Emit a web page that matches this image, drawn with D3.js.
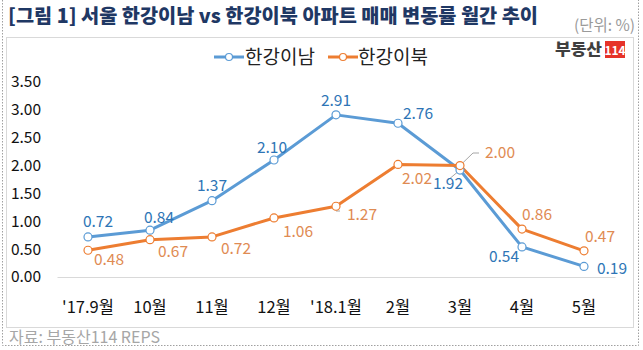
<!DOCTYPE html>
<html>
<head>
<meta charset="utf-8">
<script src="https://cdn.jsdelivr.net/npm/d3@7"></script>
<style>
  html, body { margin: 0; padding: 0; background: #fff; }
  svg { display: block; font-family: "Noto Sans CJK KR", "Noto Sans", sans-serif; }
</style>
</head>
<body>
<div id="chart"></div>
<script>
// 서울 한강이남 vs 한강이북 아파트 매매 변동률 (%)
const months = ["'17.9월", "10월", "11월", "12월", "'18.1월", "2월", "3월", "4월", "5월"];
const south = [0.72, 0.84, 1.37, 2.10, 2.91, 2.76, 1.92, 0.54, 0.19];
const north = [0.48, 0.67, 0.72, 1.06, 1.27, 2.02, 2.00, 0.86, 0.47];
const yTicks = [0, 0.5, 1, 1.5, 2, 2.5, 3, 3.5];

// label placement per point (offset of label centre from marker)
const southLabelOffset = [[10, -15], [9, -13], [0, -15], [-2, -12], [0, -14], [20, -10], [-12, 14], [-18, 10], [28, 2]];
const northLabelOffset = [[21, 9], [23, 12], [24, 12], [24, 14], [26, 8], [19, 14], [40, -13], [15, -15], [16, -14]];

const width = 643, height = 350;
const margin = { top: 82, bottom: 277, left: 57, right: 615 };

const svg = d3.select("#chart").append("svg")
    .attr("width", width)
    .attr("height", height);

// outer dashed frame + inner box
svg.append("path")
    .attr("d", `M2.5,0 V345.5 H638.5 V0`)
    .attr("fill", "none")
    .attr("stroke", "#a0a0a0")
    .attr("stroke-dasharray", "1.5,1.5");
svg.append("rect")
    .attr("x", 6.5).attr("y", 37.5)
    .attr("width", 627).attr("height", 290)
    .attr("fill", "none")
    .attr("stroke", "#d9d9d9");

// title
svg.append("text")
    .attr("x", 8).attr("y", 23)
    .attr("font-size", "19.5px")
    .attr("font-weight", "900")
    .attr("fill", "#1f3864")
    .attr("textLength", 530)
    .attr("lengthAdjust", "spacingAndGlyphs")
    .text("[그림 1] 서울 한강이남 vs 한강이북 아파트 매매 변동률 월간 추이");

svg.append("text")
    .attr("x", 635).attr("y", 31)
    .attr("text-anchor", "end")
    .attr("font-size", "15.5px")
    .attr("fill", "#9a9a9a")
    .text("(단위: %)");

svg.append("text")
    .attr("x", 9).attr("y", 343)
    .attr("font-size", "16px")
    .attr("fill", "#a6a6a6")
    .text("자료: 부동산114 REPS");

// logo
svg.append("text")
    .attr("x", 555).attr("y", 55)
    .attr("font-size", "16px")
    .attr("font-weight", "900")
    .attr("fill", "#3f3f3f")
    .attr("textLength", 47)
    .attr("lengthAdjust", "spacingAndGlyphs")
    .text("부동산");
svg.append("rect")
    .attr("x", 605).attr("y", 41)
    .attr("width", 20).attr("height", 17)
    .attr("fill", "#e63329");
svg.append("text")
    .attr("x", 615).attr("y", 54.5)
    .attr("text-anchor", "middle")
    .attr("font-size", "12px")
    .attr("font-weight", "bold")
    .attr("fill", "#fff")
    .text("114");

const x = d3.scaleBand()
    .domain(months)
    .range([margin.left, margin.right]);
const cx = (i) => x(months[i]) + x.bandwidth() / 2;

const y = d3.scaleLinear()
    .domain([0, 3.5])
    .range([margin.bottom, margin.top]);

// y axis labels
const yAxis = d3.axisLeft(y).tickValues(yTicks).tickFormat(d3.format(".2f")).tickSize(0).tickPadding(0);
const gy = svg.append("g")
    .attr("transform", "translate(41,0)")
    .call(yAxis);
gy.select(".domain").remove();
gy.selectAll("text")
    .attr("font-size", "15.5px")
    .attr("font-family", "Noto Sans CJK KR")
    .attr("fill", "#111");

// x axis
const xAxis = d3.axisBottom(x).tickSize(0).tickPadding(24);
const gx = svg.append("g")
    .attr("transform", `translate(0,${y(0)})`)
    .call(xAxis);
gx.select(".domain").attr("stroke", "#d9d9d9").attr("stroke-width", 1.2);
gx.selectAll("text")
    .attr("font-size", "16.5px")
    .attr("font-family", "Noto Sans CJK KR")
    .attr("fill", "#111");

const series = [
    { name: "한강이남", values: south, color: "#5b9bd5", labelColor: "#2e75b6", offsets: southLabelOffset },
    { name: "한강이북", values: north, color: "#ed7d31", labelColor: "#df8b53", offsets: northLabelOffset }
];

// leader lines
const leaders = [
    [[cx(6), y(north[6])], [473, 153], [479, 153]],
    [[cx(6), y(south[6])], [448, 180]],
    [[cx(4), y(north[4]) + 4], [cx(4), 211], [340, 211]]
];
svg.selectAll(".leader")
    .data(leaders)
    .join("path")
    .attr("class", "leader")
    .attr("d", (d) => d3.line()(d))
    .attr("fill", "none")
    .attr("stroke", "#a6a6a6")
    .attr("stroke-width", 1);

const line = d3.line()
    .x((d, i) => cx(i))
    .y((d) => y(d));

series.forEach((s) => {
    svg.append("path")
        .datum(s.values)
        .attr("d", line)
        .attr("fill", "none")
        .attr("stroke", s.color)
        .attr("stroke-width", 3)
        .attr("stroke-linejoin", "round");
});

series.forEach((s) => {
    svg.selectAll(null)
        .data(s.values)
        .join("circle")
        .attr("cx", (d, i) => cx(i))
        .attr("cy", (d) => y(d))
        .attr("r", 4)
        .attr("fill", "#fff")
        .attr("stroke", s.color)
        .attr("stroke-width", 1.2);

    svg.selectAll(null)
        .data(s.values)
        .join("text")
        .attr("x", (d, i) => cx(i) + s.offsets[i][0])
        .attr("y", (d, i) => y(d) + s.offsets[i][1])
        .attr("dy", "0.35em")
        .attr("text-anchor", "middle")
        .attr("font-size", "15.5px")
        .attr("fill", s.labelColor)
        .text((d) => d3.format(".2f")(d));
});

// legend
const legendItems = [
    { s: series[0], x0: 214, tx: 245 },
    { s: series[1], x0: 328, tx: 358 }
];
legendItems.forEach((l) => {
    svg.append("line")
        .attr("x1", l.x0).attr("x2", l.x0 + 30)
        .attr("y1", 57).attr("y2", 57)
        .attr("stroke", l.s.color)
        .attr("stroke-width", 3);
    svg.append("circle")
        .attr("cx", l.x0 + 15).attr("cy", 57)
        .attr("r", 3.5)
        .attr("fill", "#fff")
        .attr("stroke", l.s.color)
        .attr("stroke-width", 1.2);
    svg.append("text")
        .attr("x", l.tx).attr("y", 57)
        .attr("dy", "0.35em")
        .attr("font-size", "19px")
        .attr("fill", "#222")
        .text(l.s.name);
});
</script>
</body>
</html>
